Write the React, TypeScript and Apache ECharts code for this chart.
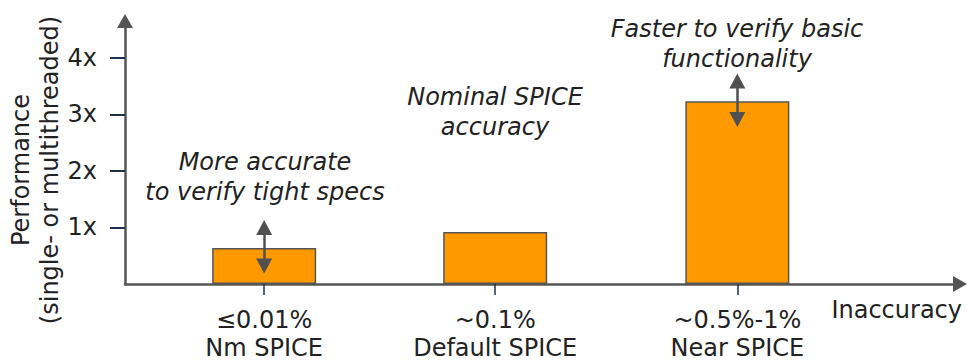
import React, { useEffect, useRef } from 'react';
import * as echarts from 'echarts';

// ---- data ----
const categories = ['≤0.01%\nNm SPICE', '~0.1%\nDefault SPICE', '~0.5%-1%\nNear SPICE'];
const xPositions = [1.0, 2.66, 4.4];
const performance = [0.635, 0.92, 3.23];
const yTickValues = [1, 2, 3, 4];
const yTickLabels = ['1x', '2x', '3x', '4x'];
const annotations = [
  'More accurate\nto verify tight specs',
  'Nominal SPICE\naccuracy',
  'Faster to verify basic\nfunctionality',
];
// double-arrow ranges (value units) per bar; null = no arrow
const arrowRanges: (number[] | null)[] = [[0.32, 1.0], null, [2.91, 3.59]];
const yAxisTitle = 'Performance\n(single- or multithreaded)';
const xAxisTitle = 'Inaccuracy';

const FONT = '"DejaVu Sans", Verdana, sans-serif';
const TEXT = '#222222';
const AXIS = '#555555';
const TICK = '#1f2f50';
const FS = 24;

const findIdx = (arr: number[], v: number) => arr.findIndex((a) => Math.abs(a - v) < 1e-6);

export default function App() {
  const ref = useRef<HTMLDivElement>(null);
  useEffect(() => {
    if (!ref.current) return;
    const chart = echarts.init(ref.current, undefined, { renderer: 'svg' });
    const markData: any[] = [];
    arrowRanges.forEach((r, i) => {
      if (r) markData.push([{ coord: [xPositions[i], r[0]] }, { coord: [xPositions[i], r[1]] }]);
    });
    const annotationPos = [
      { x: 265, y: 177 },
      { x: 495, y: 112 },
      { x: 737, y: 44 },
    ];
    chart.setOption({
      animation: false,
      grid: { left: 125, right: 7, top: 21, bottom: 78 },
      xAxis: {
        type: 'value',
        min: 0,
        max: 6,
        splitLine: { show: false },
        axisLine: {
          show: true,
          onZero: false,
          symbol: ['none', 'triangle'],
          symbolSize: [16, 14],
          lineStyle: { color: AXIS, width: 2.5 },
        },
        axisTick: { show: true, customValues: xPositions, length: 11, lineStyle: { color: TICK, width: 1.5 } },
        axisLabel: {
          customValues: xPositions,
          formatter: (v: number) => {
            const i = findIdx(xPositions, v);
            return i >= 0 ? categories[i] : '';
          },
          fontSize: FS,
          lineHeight: 28,
          color: TEXT,
          fontFamily: FONT,
          margin: 22,
        },
      },
      yAxis: {
        type: 'value',
        min: 0,
        max: 4.65,
        splitLine: { show: false },
        axisLine: {
          show: true,
          onZero: false,
          symbol: ['none', 'triangle'],
          symbolSize: [16, 14],
          lineStyle: { color: AXIS, width: 2.5 },
        },
        axisTick: { show: true, customValues: yTickValues, length: 15, lineStyle: { color: TICK, width: 2 } },
        axisLabel: {
          customValues: yTickValues,
          formatter: (v: number) => {
            const i = findIdx(yTickValues, v);
            return i >= 0 ? yTickLabels[i] : '';
          },
          fontSize: FS,
          color: TEXT,
          fontFamily: FONT,
          margin: 28,
        },
      },
      series: [
        {
          type: 'bar',
          data: xPositions.map((x, i) => [x, performance[i]]),
          barWidth: 104,
          itemStyle: { color: '#FF9900', borderColor: '#555555', borderWidth: 1.5 },
          markLine: {
            silent: true,
            symbol: ['triangle', 'triangle'],
            symbolSize: [16, 15],
            label: { show: false },
            lineStyle: { color: '#505050', width: 2.5, type: 'solid' },
            data: markData,
          },
        },
      ],
      graphic: [
        {
          type: 'text',
          x: 35,
          y: 170,
          rotation: Math.PI / 2,
          style: {
            text: yAxisTitle,
            fontSize: FS,
            lineHeight: 29,
            fontFamily: FONT,
            fill: TEXT,
            align: 'center',
            verticalAlign: 'middle',
          },
        },
        {
          type: 'text',
          x: 962,
          y: 310,
          style: {
            text: xAxisTitle,
            fontSize: FS,
            fontFamily: FONT,
            fill: TEXT,
            align: 'right',
            verticalAlign: 'middle',
          },
        },
        ...annotations.map((t, i) => ({
          type: 'text',
          x: annotationPos[i].x,
          y: annotationPos[i].y,
          style: {
            text: t,
            fontSize: FS,
            lineHeight: 30,
            fontStyle: 'italic',
            fontFamily: FONT,
            fill: TEXT,
            align: 'center',
            verticalAlign: 'middle',
          },
        })),
      ],
    });
    return () => chart.dispose();
  }, []);
  return (
    <div
      ref={ref}
      style={{ position: 'fixed', left: 0, top: 0, width: 967, height: 362, background: '#fff' }}
    />
  );
}
